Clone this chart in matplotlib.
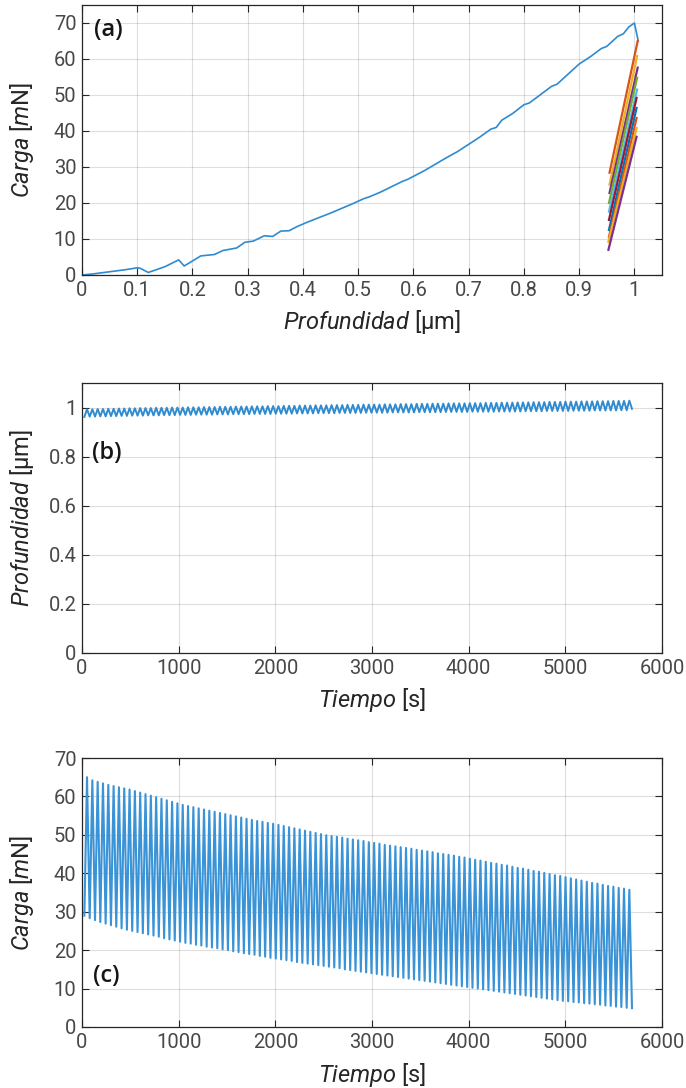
import numpy as np
import matplotlib
matplotlib.use("Agg")
import matplotlib.pyplot as plt
from matplotlib.ticker import FormatStrFormatter

plt.rcParams.update({
    "font.family": ["Roboto", "DejaVu Sans"],
    "mathtext.fontset": "custom",
    "mathtext.rm": "Roboto",
    "mathtext.it": "Roboto:italic",
    "axes.edgecolor": "#262626",
    "axes.linewidth": 0.9,
    "xtick.color": "#262626",
    "ytick.color": "#262626",
    "xtick.labelcolor": "#484848",
    "ytick.labelcolor": "#484848",
})

W, H = 686, 1088
LINE_BLUE = "#2f8bd0"
MATLAB_ORDER = ["#D95319", "#EDB120", "#7E2F8E", "#77AC30", "#4DBEEE", "#A2142F", "#0072BD"]

# (a) loading curve
load_depth_um = [0, 0.02, 0.05, 0.08, 0.10, 0.105, 0.12, 0.15, 0.175, 0.185, 0.20, 0.215,
                 0.24, 0.255, 0.28, 0.295, 0.31, 0.33, 0.345, 0.36, 0.375, 0.39, 0.41, 0.43,
                 0.45, 0.47, 0.49, 0.51, 0.52, 0.54, 0.56, 0.58, 0.59, 0.61, 0.62, 0.64, 0.66,
                 0.68, 0.70, 0.72, 0.74, 0.75, 0.76, 0.78, 0.80, 0.81, 0.83, 0.85, 0.86, 0.88,
                 0.90, 0.92, 0.94, 0.95, 0.97, 0.98, 0.99, 1.00, 1.007]
load_mn = [0, 0.3, 0.9, 1.5, 2.0, 1.9, 0.7, 2.3, 4.2, 2.5, 3.9, 5.3,
           5.7, 6.8, 7.5, 9.1, 9.4, 10.9, 10.7, 12.2, 12.3, 13.5, 14.8, 16.0,
           17.2, 18.5, 19.8, 21.2, 21.7, 23.0, 24.5, 26.0, 26.6, 28.2, 29.0, 30.8, 32.6,
           34.3, 36.3, 38.3, 40.5, 41.0, 43.0, 44.9, 47.3, 47.8, 50.1, 52.4, 53.0, 55.8,
           58.6, 60.6, 62.9, 63.5, 66.3, 67.0, 68.9, 70.0, 65.0]

# (a) unload/reload cycles: (depth, load) at bottom and top of each loop
cycle_bottom_depth = [0.955, 0.955, 0.955, 0.954, 0.954, 0.954, 0.954, 0.954, 0.953, 0.953]
cycle_bottom_load = [28.4, 25.1, 22.8, 20.0, 17.6, 15.3, 12.5, 10.6, 9.2, 7.0]
cycle_top_depth = [1.006, 1.005, 1.006, 1.005, 1.005, 1.004, 1.004, 1.004, 1.004, 1.004]
cycle_top_load = [65.0, 60.8, 57.6, 54.8, 51.5, 49.2, 46.4, 43.6, 40.8, 38.4]

# (b), (c) cyclic test: one peak per cycle, valleys in between
CYCLE_START_S = 52
CYCLE_PERIOD_S = 55

peak_depth_um = [
    0.993, 0.993, 0.994, 0.994, 0.995, 0.995, 0.996, 0.996, 0.997, 0.997,
    0.998, 0.998, 0.998, 0.999, 0.999, 0.999, 1.000, 1.000, 1.000, 1.001,
    1.001, 1.001, 1.002, 1.002, 1.002, 1.003, 1.003, 1.003, 1.004, 1.004,
    1.004, 1.005, 1.005, 1.005, 1.006, 1.006, 1.006, 1.007, 1.007, 1.007,
    1.008, 1.008, 1.008, 1.009, 1.009, 1.009, 1.010, 1.010, 1.010, 1.011,
    1.011, 1.011, 1.012, 1.012, 1.012, 1.012, 1.013, 1.013, 1.013, 1.014,
    1.014, 1.014, 1.015, 1.015, 1.015, 1.016, 1.016, 1.016, 1.017, 1.017,
    1.017, 1.017, 1.018, 1.018, 1.018, 1.019, 1.019, 1.019, 1.020, 1.020,
    1.020, 1.021, 1.021, 1.021, 1.022, 1.022, 1.022, 1.023, 1.023, 1.023,
    1.024, 1.024, 1.024, 1.025, 1.025, 1.025, 1.026, 1.026, 1.026, 1.027,
    1.027, 1.027, 1.028]
valley_depth_um = [
    0.962, 0.963, 0.963, 0.964, 0.964, 0.965, 0.965, 0.966, 0.966, 0.967,
    0.967, 0.967, 0.968, 0.968, 0.968, 0.969, 0.969, 0.969, 0.970, 0.970,
    0.970, 0.971, 0.971, 0.971, 0.971, 0.972, 0.972, 0.972, 0.973, 0.973,
    0.973, 0.973, 0.974, 0.974, 0.974, 0.974, 0.975, 0.975, 0.975, 0.975,
    0.976, 0.976, 0.976, 0.976, 0.977, 0.977, 0.977, 0.977, 0.978, 0.978,
    0.978, 0.978, 0.978, 0.979, 0.979, 0.979, 0.979, 0.979, 0.980, 0.980,
    0.980, 0.980, 0.980, 0.981, 0.981, 0.981, 0.981, 0.981, 0.982, 0.982,
    0.982, 0.982, 0.982, 0.983, 0.983, 0.983, 0.983, 0.983, 0.984, 0.984,
    0.984, 0.984, 0.984, 0.985, 0.985, 0.985, 0.985, 0.986, 0.986, 0.986,
    0.986, 0.986, 0.987, 0.987, 0.987, 0.987, 0.988, 0.988, 0.988, 0.988,
    0.988, 0.989, 0.989, 0.995]

peak_load_mn = [
    65.0, 64.2, 63.8, 63.4, 63.0, 62.7, 62.4, 62.1, 61.8, 61.4, 61.0,
    60.6, 60.2, 59.8, 59.4, 59.0, 58.6, 58.2,
    57.8, 57.5, 57.2, 56.9, 56.6, 56.3, 56.0, 55.7, 55.4,
    55.1, 54.8, 54.5, 54.2, 53.9, 53.6, 53.4, 53.1, 52.9,
    52.6, 52.3, 52.0, 51.7, 51.4, 51.1, 50.8, 50.5, 50.2,
    49.9, 49.7, 49.5, 49.3, 49.0, 48.8, 48.6, 48.4, 48.1,
    47.9, 47.7, 47.4, 47.2, 47.0, 46.8, 46.6, 46.4, 46.1,
    45.9, 45.7, 45.5, 45.2, 45.0, 44.8, 44.6, 44.3, 44.1,
    43.8, 43.5, 43.3, 43.0, 42.7, 42.5, 42.2, 42.0, 41.7,
    41.4, 41.2, 40.9, 40.6, 40.4, 40.1, 39.8, 39.5, 39.3,
    39.0, 38.7, 38.4, 38.1, 37.8, 37.5, 37.3, 37.0, 36.7, 36.5, 36.2, 36.0, 35.7]
valley_load_mn = [
    29.0, 28.3, 27.8, 27.3, 26.9, 26.5, 26.1, 25.7, 25.3, 25.0,
    24.7, 24.4, 24.1, 23.8, 23.5, 23.1, 22.8, 22.5, 22.2, 21.9,
    21.7, 21.4, 21.2, 20.9, 20.7, 20.5, 20.2, 20.0, 19.7, 19.5,
    19.2, 19.0, 18.8, 18.5, 18.3, 18.0, 17.8, 17.6, 17.4, 17.2,
    16.9, 16.7, 16.5, 16.3, 16.1, 15.9, 15.7, 15.5, 15.3, 15.0,
    14.8, 14.6, 14.4, 14.2, 14.0, 13.8, 13.6, 13.4, 13.2, 13.0,
    12.8, 12.6, 12.4, 12.2, 12.0, 11.8, 11.6, 11.4, 11.2, 11.0,
    10.8, 10.6, 10.4, 10.2, 10.0, 9.8, 9.6, 9.4, 9.2, 9.0,
    8.8, 8.6, 8.4, 8.2, 8.0, 7.8, 7.6, 7.4, 7.2, 7.0,
    6.8, 6.7, 6.5, 6.4, 6.2, 6.1, 5.9, 5.8, 5.6, 5.5,
    5.3, 5.2, 5.0, 4.9]


def interleave(valleys, peaks):
    """valley, peak, valley, ..., peak, valley -> (time, value)"""
    n = len(peaks)
    t = np.empty(2 * n + 1)
    v = np.empty(2 * n + 1)
    t[1::2] = CYCLE_START_S + CYCLE_PERIOD_S * np.arange(n)
    t[0::2] = CYCLE_START_S - CYCLE_PERIOD_S / 2 + CYCLE_PERIOD_S * np.arange(n + 1)
    v[1::2] = peaks
    v[0::2] = valleys
    return t, v


def fx(px):
    return px / W


def fy(py):
    return 1 - py / H


def style_axes(ax):
    ax.grid(True, color="#262626", alpha=0.15, linewidth=0.8)
    ax.set_axisbelow(True)
    ax.tick_params(direction="in", length=5, width=0.8, top=True, right=True,
                   labelsize=14.5, pad=4)


fig = plt.figure(figsize=(W / 100, H / 100), dpi=100)

# panel (a)
ax_a = fig.add_axes([fx(82), fy(275), fx(662) - fx(82), fy(5) - fy(275)])
ax_a.plot(load_depth_um, load_mn, color=LINE_BLUE, linewidth=1.2)
for i in range(len(cycle_bottom_load)):
    ax_a.plot([cycle_bottom_depth[i], cycle_top_depth[i]],
              [cycle_bottom_load[i], cycle_top_load[i]],
              color=MATLAB_ORDER[i % len(MATLAB_ORDER)], linewidth=1.6)
ax_a.set_xlim(0, 1.05)
ax_a.set_ylim(0, 75)
ax_a.set_xticks(np.arange(0, 1.01, 0.1))
ax_a.set_yticks(np.arange(0, 71, 10))
ax_a.xaxis.set_major_formatter(FormatStrFormatter("%g"))
style_axes(ax_a)

# panel (b)
t_b, depth_b = interleave(valley_depth_um, peak_depth_um)
ax_b = fig.add_axes([fx(82), fy(653), fx(662) - fx(82), fy(383) - fy(653)])
ax_b.plot(t_b, depth_b, color=LINE_BLUE, linewidth=1.4, solid_joinstyle="round")
ax_b.set_xlim(0, 6000)
ax_b.set_ylim(0, 1.1)
ax_b.set_xticks(np.arange(0, 6001, 1000))
ax_b.set_yticks(np.arange(0, 1.01, 0.2))
ax_b.yaxis.set_major_formatter(FormatStrFormatter("%g"))
style_axes(ax_b)

# panel (c)
t_c, load_c = interleave(valley_load_mn, peak_load_mn)
ax_c = fig.add_axes([fx(82), fy(1027), fx(662) - fx(82), fy(758) - fy(1027)])
ax_c.plot(t_c, load_c, color="#3a93d6", linewidth=1.5, solid_joinstyle="round")
ax_c.set_xlim(0, 6000)
ax_c.set_ylim(0, 70)
ax_c.set_xticks(np.arange(0, 6001, 1000))
ax_c.set_yticks(np.arange(0, 71, 10))
style_axes(ax_c)

# axis labels
lab = dict(fontsize=17, color="#262626", ha="center", va="center")
fig.text(fx(372), fy(322), r"$\mathit{Profundidad}$ [μm]", **lab)
fig.text(fx(22), fy(140), r"$\mathit{Carga}$ [$\mathit{m}$N]", rotation=90, **lab)
fig.text(fx(372), fy(700), r"$\mathit{Tiempo}$ [s]", **lab)
fig.text(fx(22), fy(518), r"$\mathit{Profundidad}$ [μm]", rotation=90, **lab)
fig.text(fx(372), fy(1075), r"$\mathit{Tiempo}$ [s]", **lab)
fig.text(fx(22), fy(893), r"$\mathit{Carga}$ [$\mathit{m}$N]", rotation=90, **lab)

# panel tags
tag = dict(fontsize=17, fontweight="semibold", color="#151515",
           family=["Open Sans", "DejaVu Sans"], ha="left", va="center")
fig.text(fx(94), fy(30), "(a)", **tag)
fig.text(fx(92), fy(453), "(b)", **tag)
fig.text(fx(93), fy(976), "(c)", **tag)

fig.savefig("out.png", dpi=100)
